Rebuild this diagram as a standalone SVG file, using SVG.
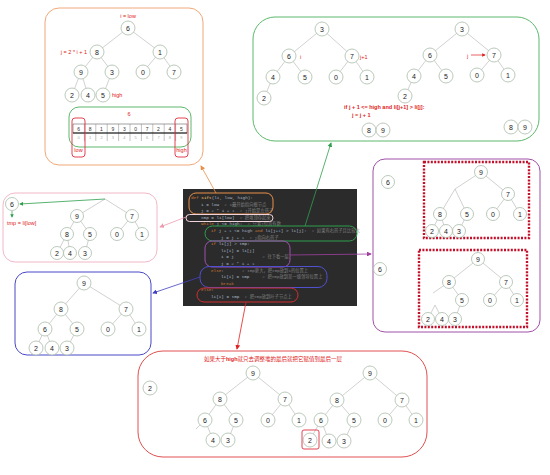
<svg xmlns="http://www.w3.org/2000/svg" width="550" height="475" viewBox="0 0 550 475">
<style>
.nd circle{fill:#fff;stroke:#a9bba9;stroke-width:0.8}
.nd text{font-family:"Liberation Sans",Arial,sans-serif;font-size:7px;fill:#222;text-anchor:middle}
.e{stroke:#bdbdbd;stroke-width:0.7;fill:none}
.rt{font-family:"Liberation Sans","Noto Sans CJK SC",sans-serif;fill:#e02020;font-size:5.5px}
.panel{fill:#fff;stroke-width:1}
.code{font-family:"Liberation Mono","Noto Sans CJK SC",monospace;font-size:4.3px;fill:#a9b7c6;white-space:pre}
.kw{fill:#cc7832}
.cm{fill:#808080}
.num{fill:#6897bb}
.fn{fill:#ffc66d}
.cell{font-family:"Liberation Sans",sans-serif;font-size:5px;fill:#333;text-anchor:middle}
.idx{font-family:"Liberation Sans",sans-serif;font-size:4px;fill:#aaa;text-anchor:middle}
.dot{fill:none;stroke:#c0102a;stroke-width:2.4;stroke-dasharray:2 1.4}
</style>
<defs>
<marker id="mo" markerWidth="6" markerHeight="6" refX="5" refY="3" orient="auto"><path d="M0,0 L6,3 L0,6 z" fill="#e8904a"/></marker>
<marker id="mg" markerWidth="6" markerHeight="6" refX="5" refY="3" orient="auto"><path d="M0,0 L6,3 L0,6 z" fill="#2e9e4e"/></marker>
<marker id="mp" markerWidth="6" markerHeight="6" refX="5" refY="3" orient="auto"><path d="M0,0 L6,3 L0,6 z" fill="#ee9ab0"/></marker>
<marker id="mv" markerWidth="6" markerHeight="6" refX="5" refY="3" orient="auto"><path d="M0,0 L6,3 L0,6 z" fill="#a040a0"/></marker>
<marker id="mb" markerWidth="6" markerHeight="6" refX="5" refY="3" orient="auto"><path d="M0,0 L6,3 L0,6 z" fill="#4040c0"/></marker>
<marker id="mr" markerWidth="6" markerHeight="6" refX="5" refY="3" orient="auto"><path d="M0,0 L6,3 L0,6 z" fill="#e02020"/></marker>
<marker id="ms" markerWidth="5" markerHeight="5" refX="4" refY="2.5" orient="auto"><path d="M0,0 L5,2.5 L0,5 z" fill="#2e9e4e"/></marker>
<marker id="mrs" markerWidth="5" markerHeight="5" refX="4" refY="2.5" orient="auto"><path d="M0,0 L5,2.5 L0,5 z" fill="#e02020"/></marker>
</defs>
<rect width="550" height="475" fill="#fff"/>

<!-- panels -->
<g id="panel-orange"><rect class="panel" x="45" y="8" width="158" height="157" rx="14" stroke="#f0a878"/></g>
<g id="panel-green"><rect class="panel" x="253" y="17" width="286" height="124" rx="22" stroke="#5cb86c"/></g>
<g id="panel-pink"><rect class="panel" x="3" y="193" width="154" height="69" rx="12" stroke="#f2b8c6"/></g>
<g id="panel-purple"><rect class="panel" x="373" y="159" width="167" height="173" rx="12" stroke="#a050a8"/></g>
<g id="panel-blue"><rect class="panel" x="15" y="272" width="136" height="83" rx="12" stroke="#4848c8"/></g>
<g id="panel-red"><rect class="panel" x="138" y="351" width="289" height="106" rx="25" stroke="#e05050"/></g>

<!-- tree edges -->
<g id="tree-edges" class="e">
<path d="M128,28L97,52M128,28L160,52M97,52L81,72M97,52L112,72M160,52L143,72M160,52L174,72M81,72L72,95M81,72L88,95M112,72L103,95"/>
<path d="M322,29L289,56M322,29L352,56M289,56L273,77M289,56L305,77M352,56L336,77M352,56L367,77M273,77L264,98"/>
<path d="M462,29L430,55M462,29L494,55M430,55L414,76M430,55L446,76M494,55L477,75M494,55L508,75M414,76L405,96"/>
<path d="M105,199L77,216M105,199L132,216M77,216L67,234M77,216L90,234M132,216L117,234M132,216L142,234M67,234L57,253M67,234L70,253M90,234L85,253"/>
<path d="M481,172L455,189M481,172L508,194M455,189L440,214M455,189L467,214M508,194L493,214M508,194L520,214M440,214L432,231M440,214L446,231M467,214L459,231"/>
<path d="M478,259L449,282M478,259L506,282M449,282L433,293M449,282L462,300M506,282L490,300M506,282L517,300M435,305L428,319M435,305L442,319M462,300L455,319"/>
<path d="M84,283L61,309M84,283L126,309M61,309L45,329M61,309L77,329M126,309L108,329M126,309L139,329M45,329L36,348M45,329L52,348M77,329L67,348"/>
<path d="M253,373L220,399M253,373L285,399M220,399L205,420M220,399L236,420M285,399L268,420M285,399L299,420M205,420L196,429M205,420L213,440M236,420L228,440"/>
<path d="M370,373L337,400M370,373L402,400M337,400L321,420M337,400L354,420M402,400L385,420M402,400L416,420M321,420L310,440M321,420L329,441M354,420L344,441"/>
</g>

<!-- panel 1 nodes -->
<text class="rt" x="128" y="18" text-anchor="middle">i = low</text>
<text class="rt" x="74" y="54" text-anchor="middle">j = 2 * i + 1</text>
<text class="rt" x="112" y="97">high</text>
<g id="a6" class="nd"><circle cx="128" cy="28" r="7"/><text x="128" y="30.5">6</text></g>
<g id="a8" class="nd"><circle cx="97" cy="52" r="7"/><text x="97" y="54.5">8</text></g>
<g id="a1" class="nd"><circle cx="160" cy="52" r="7"/><text x="160" y="54.5">1</text></g>
<g id="a9" class="nd"><circle cx="81" cy="72" r="7"/><text x="81" y="74.5">9</text></g>
<g id="a3" class="nd"><circle cx="112" cy="72" r="7"/><text x="112" y="74.5">3</text></g>
<g id="a0" class="nd"><circle cx="143" cy="72" r="7"/><text x="143" y="74.5">0</text></g>
<g id="a7" class="nd"><circle cx="174" cy="72" r="7"/><text x="174" y="74.5">7</text></g>
<g id="a2" class="nd"><circle cx="72" cy="95" r="7"/><text x="72" y="97.5">2</text></g>
<g id="a4" class="nd"><circle cx="88" cy="95" r="7"/><text x="88" y="97.5">4</text></g>
<g id="a5" class="nd"><circle cx="103" cy="95" r="7"/><text x="103" y="97.5">5</text></g>

<!-- array -->
<g id="array">
<rect x="69" y="107" width="122" height="40" rx="10" fill="none" stroke="#5cb86c" stroke-width="1"/>
<text class="rt" x="129" y="116" text-anchor="middle">6</text>
<rect x="73" y="124" width="114" height="9" fill="#fff" stroke="#444" stroke-width="0.5"/>
<path d="M84.4,124V141M95.8,124V141M107.2,124V141M118.6,124V141M130,124V141M141.4,124V141M152.8,124V141M164.2,124V141M175.6,124V141" stroke="#666" stroke-width="0.4"/>
<path d="M73,133H187" stroke="#111" stroke-width="1"/>
<text class="cell" x="78.7" y="130.5">6</text><text class="cell" x="90.1" y="130.5">8</text><text class="cell" x="101.5" y="130.5">1</text><text class="cell" x="112.9" y="130.5">9</text><text class="cell" x="124.3" y="130.5">3</text><text class="cell" x="135.7" y="130.5">0</text><text class="cell" x="147.1" y="130.5">7</text><text class="cell" x="158.5" y="130.5">2</text><text class="cell" x="169.9" y="130.5">4</text><text class="cell" x="181.3" y="130.5">5</text>
<text class="idx" x="78.7" y="139">0</text><text class="idx" x="90.1" y="139">1</text><text class="idx" x="101.5" y="139">2</text><text class="idx" x="112.9" y="139">3</text><text class="idx" x="124.3" y="139">4</text><text class="idx" x="135.7" y="139">5</text><text class="idx" x="147.1" y="139">6</text><text class="idx" x="158.5" y="139">7</text><text class="idx" x="169.9" y="139">8</text><text class="idx" x="181.3" y="139">9</text>
<rect x="72" y="118" width="13" height="39" rx="3" fill="none" stroke="#e03040" stroke-width="0.9"/>
<rect x="175" y="118" width="13" height="39" rx="3" fill="none" stroke="#e03040" stroke-width="0.9"/>
<text class="rt" x="78.5" y="152" text-anchor="middle" font-size="5">low</text>
<text class="rt" x="181.5" y="152" text-anchor="middle" font-size="5">high</text>
</g>

<!-- panel 2 nodes -->
<text class="rt" x="300" y="58.5">i</text>
<text class="rt" x="360" y="59">j+1</text>
<text class="rt" x="467" y="57.5">j</text>
<line x1="471" y1="55" x2="485" y2="55" stroke="#e02020" stroke-width="0.7" marker-end="url(#mrs)"/>
<text class="rt" x="344" y="109" font-size="5" font-weight="bold">if j + 1 &lt;= high and li[j+1] &gt; li[j]:</text>
<text class="rt" x="352" y="117" font-size="5" font-weight="bold">j = j + 1</text>
<g id="b3" class="nd"><circle cx="322" cy="29" r="7"/><text x="322" y="31.5">3</text></g>
<g id="b6" class="nd"><circle cx="289" cy="56" r="7"/><text x="289" y="58.5">6</text></g>
<g id="b7" class="nd"><circle cx="352" cy="56" r="7"/><text x="352" y="58.5">7</text></g>
<g id="b4" class="nd"><circle cx="273" cy="77" r="7"/><text x="273" y="79.5">4</text></g>
<g id="b5" class="nd"><circle cx="305" cy="77" r="7"/><text x="305" y="79.5">5</text></g>
<g id="b0" class="nd"><circle cx="336" cy="77" r="7"/><text x="336" y="79.5">0</text></g>
<g id="b1" class="nd"><circle cx="367" cy="77" r="7"/><text x="367" y="79.5">1</text></g>
<g id="b2" class="nd"><circle cx="264" cy="98" r="7"/><text x="264" y="100.5">2</text></g>
<g id="b8" class="nd"><circle cx="369" cy="130" r="7"/><text x="369" y="132.5">8</text></g>
<g id="b9" class="nd"><circle cx="383" cy="130" r="7"/><text x="383" y="132.5">9</text></g>
<g id="c3" class="nd"><circle cx="462" cy="29" r="7"/><text x="462" y="31.5">3</text></g>
<g id="c6" class="nd"><circle cx="430" cy="55" r="7"/><text x="430" y="57.5">6</text></g>
<g id="c7" class="nd"><circle cx="494" cy="55" r="7"/><text x="494" y="57.5">7</text></g>
<g id="c4" class="nd"><circle cx="414" cy="76" r="7"/><text x="414" y="78.5">4</text></g>
<g id="c5" class="nd"><circle cx="446" cy="76" r="7"/><text x="446" y="78.5">5</text></g>
<g id="c0" class="nd"><circle cx="477" cy="75" r="7"/><text x="477" y="77.5">0</text></g>
<g id="c1" class="nd"><circle cx="508" cy="75" r="7"/><text x="508" y="77.5">1</text></g>
<g id="c2" class="nd"><circle cx="405" cy="96" r="7"/><text x="405" y="98.5">2</text></g>
<g id="c8" class="nd"><circle cx="511" cy="127" r="7"/><text x="511" y="129.5">8</text></g>
<g id="c9" class="nd"><circle cx="525" cy="127" r="7"/><text x="525" y="129.5">9</text></g>

<!-- panel 3 nodes -->
<line x1="105" y1="199" x2="20" y2="204" stroke="#2e9e4e" stroke-width="0.8" marker-end="url(#ms)"/>
<line x1="12" y1="211" x2="12" y2="217" stroke="#2e9e4e" stroke-width="0.7" marker-end="url(#ms)"/>
<text class="rt" x="7" y="225" font-size="5">tmp = li[low]</text>
<g id="d6" class="nd"><circle cx="12" cy="204" r="6.5"/><text x="12" y="206.5">6</text></g>
<g id="d9" class="nd"><circle cx="77" cy="216" r="6.5"/><text x="77" y="218.5">9</text></g>
<g id="d7" class="nd"><circle cx="132" cy="216" r="6.5"/><text x="132" y="218.5">7</text></g>
<g id="d8" class="nd"><circle cx="67" cy="234" r="6.5"/><text x="67" y="236.5">8</text></g>
<g id="d5" class="nd"><circle cx="90" cy="234" r="6.5"/><text x="90" y="236.5">5</text></g>
<g id="d0" class="nd"><circle cx="117" cy="234" r="6.5"/><text x="117" y="236.5">0</text></g>
<g id="d1" class="nd"><circle cx="142" cy="234" r="6.5"/><text x="142" y="236.5">1</text></g>
<g id="d2" class="nd"><circle cx="57" cy="253" r="6.5"/><text x="57" y="255.5">2</text></g>
<g id="d4" class="nd"><circle cx="70" cy="253" r="6.5"/><text x="70" y="255.5">4</text></g>
<g id="d3" class="nd"><circle cx="85" cy="253" r="6.5"/><text x="85" y="255.5">3</text></g>

<!-- panel 4 nodes -->
<rect class="dot" x="424" y="162" width="105" height="76"/>
<rect class="dot" x="419" y="250" width="108" height="77"/>
<g id="e6a" class="nd"><circle cx="388" cy="182" r="6.5"/><text x="388" y="184.5">6</text></g>
<g id="e6b" class="nd"><circle cx="380" cy="269" r="6.5"/><text x="380" y="271.5">6</text></g>
<g id="f9" class="nd"><circle cx="481" cy="172" r="6.5"/><text x="481" y="174.5">9</text></g>
<g id="f7" class="nd"><circle cx="508" cy="194" r="6.5"/><text x="508" y="196.5">7</text></g>
<g id="f8" class="nd"><circle cx="440" cy="214" r="6.5"/><text x="440" y="216.5">8</text></g>
<g id="f5" class="nd"><circle cx="467" cy="214" r="6.5"/><text x="467" y="216.5">5</text></g>
<g id="f0" class="nd"><circle cx="493" cy="214" r="6.5"/><text x="493" y="216.5">0</text></g>
<g id="f1" class="nd"><circle cx="520" cy="214" r="6.5"/><text x="520" y="216.5">1</text></g>
<g id="f2" class="nd"><circle cx="432" cy="231" r="6.5"/><text x="432" y="233.5">2</text></g>
<g id="f4" class="nd"><circle cx="446" cy="231" r="6.5"/><text x="446" y="233.5">4</text></g>
<g id="f3" class="nd"><circle cx="459" cy="231" r="6.5"/><text x="459" y="233.5">3</text></g>
<g id="g9" class="nd"><circle cx="478" cy="259" r="6.5"/><text x="478" y="261.5">9</text></g>
<g id="g8" class="nd"><circle cx="449" cy="282" r="6.5"/><text x="449" y="284.5">8</text></g>
<g id="g7" class="nd"><circle cx="506" cy="282" r="6.5"/><text x="506" y="284.5">7</text></g>
<g id="g5" class="nd"><circle cx="462" cy="300" r="6.5"/><text x="462" y="302.5">5</text></g>
<g id="g0" class="nd"><circle cx="490" cy="300" r="6.5"/><text x="490" y="302.5">0</text></g>
<g id="g1" class="nd"><circle cx="517" cy="300" r="6.5"/><text x="517" y="302.5">1</text></g>
<g id="g2" class="nd"><circle cx="428" cy="319" r="6.5"/><text x="428" y="321.5">2</text></g>
<g id="g4" class="nd"><circle cx="442" cy="319" r="6.5"/><text x="442" y="321.5">4</text></g>
<g id="g3" class="nd"><circle cx="455" cy="319" r="6.5"/><text x="455" y="321.5">3</text></g>

<!-- panel 5 nodes -->
<g id="h9" class="nd"><circle cx="84" cy="283" r="7"/><text x="84" y="285.5">9</text></g>
<g id="h8" class="nd"><circle cx="61" cy="309" r="7"/><text x="61" y="311.5">8</text></g>
<g id="h7" class="nd"><circle cx="126" cy="309" r="7"/><text x="126" y="311.5">7</text></g>
<g id="h6" class="nd"><circle cx="45" cy="329" r="7"/><text x="45" y="331.5">6</text></g>
<g id="h5" class="nd"><circle cx="77" cy="329" r="7"/><text x="77" y="331.5">5</text></g>
<g id="h0" class="nd"><circle cx="108" cy="329" r="7"/><text x="108" y="331.5">0</text></g>
<g id="h1" class="nd"><circle cx="139" cy="329" r="7"/><text x="139" y="331.5">1</text></g>
<g id="h2" class="nd"><circle cx="36" cy="348" r="7"/><text x="36" y="350.5">2</text></g>
<g id="h4" class="nd"><circle cx="52" cy="348" r="7"/><text x="52" y="350.5">4</text></g>
<g id="h3" class="nd"><circle cx="67" cy="348" r="7"/><text x="67" y="350.5">3</text></g>

<!-- panel 6 nodes -->
<text class="rt" x="273" y="361" text-anchor="middle" font-size="5.5">如果大于<tspan font-weight="bold">high</tspan>就只去调整堆的最后就把它赋值到最后一层</text>
<g id="i2" class="nd"><circle cx="150" cy="388" r="7"/><text x="150" y="390.5">2</text></g>
<g id="j9" class="nd"><circle cx="253" cy="373" r="7"/><text x="253" y="375.5">9</text></g>
<g id="j8" class="nd"><circle cx="220" cy="399" r="7"/><text x="220" y="401.5">8</text></g>
<g id="j7" class="nd"><circle cx="285" cy="399" r="7"/><text x="285" y="401.5">7</text></g>
<g id="j6" class="nd"><circle cx="205" cy="420" r="7"/><text x="205" y="422.5">6</text></g>
<g id="j5" class="nd"><circle cx="236" cy="420" r="7"/><text x="236" y="422.5">5</text></g>
<g id="j0" class="nd"><circle cx="268" cy="420" r="7"/><text x="268" y="422.5">0</text></g>
<g id="j1" class="nd"><circle cx="299" cy="420" r="7"/><text x="299" y="422.5">1</text></g>
<g id="j4" class="nd"><circle cx="213" cy="440" r="7"/><text x="213" y="442.5">4</text></g>
<g id="j3" class="nd"><circle cx="228" cy="440" r="7"/><text x="228" y="442.5">3</text></g>
<g id="k9" class="nd"><circle cx="370" cy="373" r="7"/><text x="370" y="375.5">9</text></g>
<g id="k8" class="nd"><circle cx="337" cy="400" r="7"/><text x="337" y="402.5">8</text></g>
<g id="k7" class="nd"><circle cx="402" cy="400" r="7"/><text x="402" y="402.5">7</text></g>
<g id="k6" class="nd"><circle cx="321" cy="420" r="7"/><text x="321" y="422.5">6</text></g>
<g id="k5" class="nd"><circle cx="354" cy="420" r="7"/><text x="354" y="422.5">5</text></g>
<g id="k0" class="nd"><circle cx="385" cy="420" r="7"/><text x="385" y="422.5">0</text></g>
<g id="k1" class="nd"><circle cx="416" cy="420" r="7"/><text x="416" y="422.5">1</text></g>
<g id="k2" class="nd"><circle cx="310" cy="440" r="7"/><text x="310" y="442.5">2</text></g>
<g id="k4" class="nd"><circle cx="329" cy="441" r="7"/><text x="329" y="443.5">4</text></g>
<g id="k3" class="nd"><circle cx="344" cy="441" r="7"/><text x="344" y="443.5">3</text></g>
<rect x="302" y="430" width="17" height="19" rx="2" fill="none" stroke="#e03040" stroke-width="0.9"/>

<!-- code panel -->
<g id="code">
<rect x="183" y="189" width="174" height="117" fill="#2b2b2b"/>
<text class="code" x="191" y="199"><tspan class="kw">def</tspan> <tspan class="fn">sift</tspan>(li, low, high):</text>
<text class="code" x="201" y="205.6">i = low  <tspan class="cm"># i最开始指向根节点</tspan></text>
<text class="code" x="201" y="212.2">j = <tspan class="num">2</tspan> * i + <tspan class="num">1</tspan>  <tspan class="cm"># j开始是左孩子</tspan></text>
<text class="code" x="201" y="218.8">tmp = li[low]  <tspan class="cm"># 把堆顶存起来</tspan></text>
<text class="code" x="201" y="225.4"><tspan class="kw">while</tspan> j &lt;= high:  <tspan class="cm"># 只要j位置有数</tspan></text>
<text class="code" x="211" y="232"><tspan class="kw">if</tspan> j + <tspan class="num">1</tspan> &lt;= high <tspan class="kw">and</tspan> li[j+<tspan class="num">1</tspan>] &gt; li[j]:  <tspan class="cm"># 如果有右孩子且比较大</tspan></text>
<text class="code" x="221" y="238.6">j = j + <tspan class="num">1</tspan>  <tspan class="cm"># j指向右孩子</tspan></text>
<text class="code" x="211" y="245.2"><tspan class="kw">if</tspan> li[j] &gt; tmp:</text>
<text class="code" x="221" y="251.8">li[i] = li[j]</text>
<text class="code" x="221" y="258.4">i = j           <tspan class="cm"># 往下看一层</tspan></text>
<text class="code" x="221" y="265">j = <tspan class="num">2</tspan> * i + <tspan class="num">1</tspan></text>
<text class="code" x="211" y="271.6"><tspan class="kw">else</tspan>:       <tspan class="cm"># tmp更大，把tmp放到i的位置上</tspan></text>
<text class="code" x="221" y="278.2">li[i] = tmp     <tspan class="cm"># 把tmp放到某一级领导位置上</tspan></text>
<text class="code" x="221" y="284.8"><tspan class="kw">break</tspan></text>
<text class="code" x="201" y="291.4"><tspan class="kw">else</tspan>:</text>
<text class="code" x="211" y="298">li[i] = tmp  <tspan class="cm"># 把tmp放到叶子节点上</tspan></text>
<rect x="189" y="193" width="84" height="21" rx="7" fill="none" stroke="#e8904a" stroke-width="1"/>
<rect x="186" y="214.5" width="87" height="7" rx="3.5" fill="none" stroke="#f0d4dc" stroke-width="1"/>
<rect x="205" y="226" width="152" height="15" rx="7.5" fill="none" stroke="#2e9e4e" stroke-width="1"/>
<rect x="205" y="241" width="85" height="26" rx="7" fill="none" stroke="#a050b0" stroke-width="1"/>
<rect x="200" y="266.5" width="127" height="21" rx="9" fill="none" stroke="#5050d0" stroke-width="1"/>
<rect x="197" y="288" width="101" height="14" rx="7" fill="none" stroke="#d03030" stroke-width="1"/>
</g>

<!-- connectors -->
<g id="connectors" stroke-width="0.8" fill="none">
<line x1="216" y1="193" x2="201" y2="166" stroke="#e8904a" marker-end="url(#mo)"/>
<line x1="305" y1="226" x2="331" y2="143" stroke="#2e9e4e" marker-end="url(#mg)"/>
<line x1="186" y1="217" x2="160" y2="227" stroke="#ee9ab0" marker-end="url(#mp)"/>
<line x1="290" y1="255" x2="371" y2="254" stroke="#a040a0" marker-end="url(#mv)"/>
<line x1="200" y1="277" x2="153" y2="293" stroke="#4040c0" marker-end="url(#mb)"/>
<line x1="246" y1="302" x2="237" y2="349" stroke="#e02020" marker-end="url(#mr)"/>
</g>
</svg>
